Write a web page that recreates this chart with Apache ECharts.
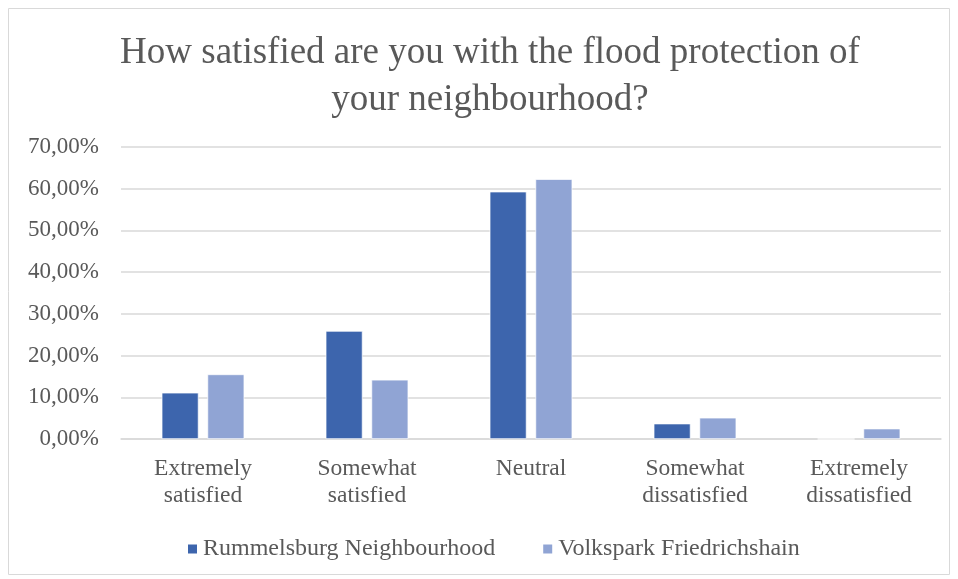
<!DOCTYPE html>
<html><head><meta charset="utf-8">
<script src="https://cdn.jsdelivr.net/npm/echarts@6/dist/echarts.min.js"></script>
<style>html,body{margin:0;padding:0;background:#fff}#c{width:958px;height:579px}</style>
</head><body><div id="c"></div>
<script>
const categories = ["Extremely\nsatisfied", "Somewhat\nsatisfied", "Neutral", "Somewhat\ndissatisfied", "Extremely\ndissatisfied"];
const rummelsburg = [11.1, 25.9, 59.3, 3.7, 0];
const volkspark = [15.5, 14.2, 62.3, 5.1, 2.5];
const seriesNames = ["Rummelsburg Neighbourhood", "Volkspark Friedrichshain"];
const titleText = "How satisfied are you with the flood protection of\nyour neighbourhood?";

const font = "'Liberation Serif', 'Times New Roman', serif";
const chart = echarts.init(document.getElementById('c'));
chart.setOption({
  animation: false,
  textStyle: {fontFamily: font},
  graphic: [{type: 'rect', shape: {x: 8.5, y: 8.5, width: 941, height: 566}, style: {fill: 'none', stroke: '#d9d9d9', lineWidth: 1}}],
  title: {text: titleText, left: 485, top: 25, textAlign: 'center', textStyle: {fontFamily: font, fontSize: 37, fontWeight: 'normal', color: '#595959', lineHeight: 47}},
  grid: {left: 121, right: 17, top: 147, bottom: 140},
  legend: {top: 532, left: 181, itemWidth: 11, itemHeight: 11, itemGap: 46, icon: 'rect',
    textStyle: {fontFamily: font, fontSize: 24, color: '#595959', padding: [0,0,0,0]}, data: seriesNames},
  xAxis: {type: 'category', data: categories,
    axisLine: {lineStyle: {color: '#d9d9d9', width: 1.5}}, axisTick: {show: false},
    axisLabel: {fontFamily: font, fontSize: 23.5, color: '#595959', lineHeight: 27, margin: 16}},
  yAxis: {type: 'value', min: 0, max: 70, interval: 10,
    axisLine: {show: false}, axisTick: {show: false},
    splitLine: {lineStyle: {color: '#d9d9d9', width: 1.5}},
    axisLabel: {fontFamily: font, fontSize: 23, color: '#595959', margin: 22,
      formatter: v => v.toFixed(2).replace('.', ',') + '%'}},
  series: [
    {name: seriesNames[0], type: 'bar', data: rummelsburg, barWidth: '22.5%', barGap: '24%',
      itemStyle: {color: '#3D65AD', borderColor: '#fff', borderWidth: 0.7}},
    {name: seriesNames[1], type: 'bar', data: volkspark, barWidth: '22.5%',
      itemStyle: {color: '#90A4D4', borderColor: '#fff', borderWidth: 0.7}}
  ]
});
</script></body></html>
